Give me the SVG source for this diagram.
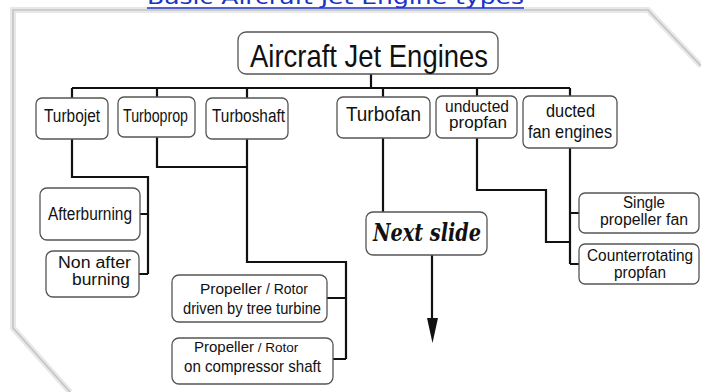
<svg xmlns="http://www.w3.org/2000/svg" width="701" height="392" viewBox="0 0 701 392">
<style>
.box{fill:#fff;stroke:#555;stroke-width:1.3}
.t{font-family:"Liberation Sans",Arial,sans-serif;fill:#111}
.c{fill:none;stroke:#111;stroke-width:2.2;stroke-linejoin:miter}
</style>
<rect width="701" height="392" fill="#fff"/>
<polyline points="70,392 13,328 13,10 648,10 701,66" fill="none" stroke="#e8e8e8" stroke-width="6"/>
<polyline points="70,392 13,328 13,10 648,10 701,66" fill="none" stroke="#c4c4c4" stroke-width="1.6"/>
<g id="title">
<text x="147" y="4" font-family="DejaVu Sans,Verdana,sans-serif" font-size="20" fill="#1a33c4" textLength="377" lengthAdjust="spacingAndGlyphs">Basic Aircraft Jet Engine types</text>
<line x1="147" y1="8" x2="524" y2="8" stroke="#1a33c4" stroke-width="1.4"/>
</g>
<g id="connectors">
<path class="c" d="M371,74V88M72,88H570M72,88V98M157,88V97M247,88V98M383,88V97M477,88V96M570,88V96"/>
<path class="c" d="M72,139V177H148V274M140,214H148M139,274H148"/>
<path class="c" d="M157,137V167H247"/>
<path class="c" d="M247,139V262H346V359M327,298H346M333,359H346"/>
<path class="c" d="M383,138V212"/>
<path class="c" d="M432,255V322"/>
<polygon points="427,318 438,318 432.5,343" fill="#111"/>
<path class="c" d="M477,138V190H546V242H570"/>
<path class="c" d="M570,148V264M570,213H579M570,264H579"/>
</g>
<g id="root">
<rect class="box" x="238" y="32" width="260" height="42" rx="8"/>
<text class="t" x="250" y="67" font-size="32" textLength="238" lengthAdjust="spacingAndGlyphs">Aircraft Jet Engines</text>
</g>
<g id="turbojet">
<rect class="box" x="36" y="98" width="72" height="41" rx="6"/>
<text class="t" x="44" y="122" font-size="18" textLength="56" lengthAdjust="spacingAndGlyphs">Turbojet</text>
</g>
<g id="turboprop">
<rect class="box" x="118" y="97" width="77" height="40" rx="6"/>
<text class="t" x="123" y="122" font-size="18" textLength="65" lengthAdjust="spacingAndGlyphs">Turboprop</text>
</g>
<g id="turboshaft">
<rect class="box" x="206" y="98" width="82" height="41" rx="6"/>
<text class="t" x="212" y="122" font-size="18" textLength="73" lengthAdjust="spacingAndGlyphs">Turboshaft</text>
</g>
<g id="turbofan">
<rect class="box" x="337" y="97" width="93" height="41" rx="6"/>
<text class="t" x="346" y="121" font-size="20" textLength="75" lengthAdjust="spacingAndGlyphs">Turbofan</text>
</g>
<g id="unducted">
<rect class="box" x="436" y="96" width="81" height="42" rx="6"/>
<text class="t" x="445" y="112" font-size="16" textLength="64" lengthAdjust="spacingAndGlyphs">unducted</text>
<text class="t" x="449" y="128" font-size="16" textLength="58" lengthAdjust="spacingAndGlyphs">propfan</text>
</g>
<g id="ducted">
<rect class="box" x="523" y="96" width="94" height="52" rx="6"/>
<text class="t" x="546" y="117" font-size="19" textLength="49" lengthAdjust="spacingAndGlyphs">ducted</text>
<text class="t" x="528" y="138" font-size="19" textLength="84" lengthAdjust="spacingAndGlyphs">fan engines</text>
</g>
<g id="afterburning">
<rect class="box" x="40" y="188" width="100" height="52" rx="7"/>
<text class="t" x="48" y="220" font-size="18" textLength="84" lengthAdjust="spacingAndGlyphs">Afterburning</text>
</g>
<g id="nonafter">
<rect class="box" x="46" y="251" width="93" height="46" rx="7"/>
<text class="t" x="58" y="268" font-size="16" textLength="73" lengthAdjust="spacingAndGlyphs">Non after</text>
<text class="t" x="72" y="285" font-size="16" textLength="58" lengthAdjust="spacingAndGlyphs">burning</text>
</g>
<g id="prop-free">
<rect class="box" x="172" y="275" width="155" height="47" rx="7"/>
<text class="t" x="200" y="294" font-size="15.5">Propeller<tspan font-size="14"> / Rotor</tspan></text>
<text class="t" x="183" y="314" font-size="17" textLength="138" lengthAdjust="spacingAndGlyphs">driven by tree turbine</text>
</g>
<g id="prop-comp">
<rect class="box" x="172" y="338" width="161" height="46" rx="7"/>
<text class="t" x="194" y="352" font-size="15">Propeller<tspan font-size="13.5"> / Rotor</tspan></text>
<text class="t" x="184" y="372" font-size="17" textLength="137" lengthAdjust="spacingAndGlyphs">on compressor shaft</text>
</g>
<g id="single">
<rect class="box" x="579" y="193" width="120" height="40" rx="6"/>
<text class="t" x="623" y="208" font-size="16" textLength="42" lengthAdjust="spacingAndGlyphs">Single</text>
<text class="t" x="600" y="225" font-size="16" textLength="88" lengthAdjust="spacingAndGlyphs">propeller fan</text>
</g>
<g id="counter">
<rect class="box" x="579" y="244" width="120" height="40" rx="6"/>
<text class="t" x="587" y="261" font-size="16" textLength="106" lengthAdjust="spacingAndGlyphs">Counterrotating</text>
<text class="t" x="614" y="278" font-size="16" textLength="52" lengthAdjust="spacingAndGlyphs">propfan</text>
</g>
<g id="nextslide">
<rect class="box" x="366" y="212" width="121" height="43" rx="7"/>
<text x="373" y="241" font-family="DejaVu Serif,serif" font-style="italic" font-weight="bold" font-size="25" fill="#111" textLength="108" lengthAdjust="spacingAndGlyphs">Next slide</text>
</g>
</svg>
